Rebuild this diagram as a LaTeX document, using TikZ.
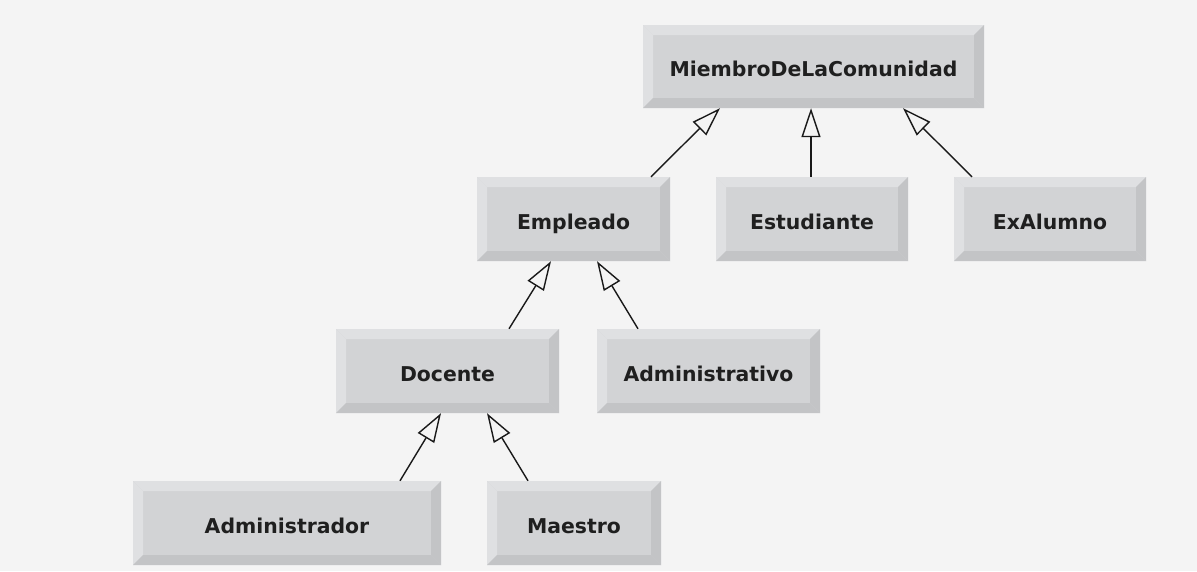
\documentclass[tikz,border=0pt]{standalone}
\usepackage{fontspec}
\setmainfont{DejaVu Sans}
\usetikzlibrary{arrows.meta}
\definecolor{bg}{HTML}{F4F4F4}
\definecolor{face}{HTML}{D2D3D5}
\definecolor{bevlight}{HTML}{DFE0E2}
\definecolor{bevdark}{HTML}{C3C4C6}
\tikzset{
  x=1pt, y=-1pt,
  bevbox/.style={
    minimum height=84pt, inner sep=0pt, fill=face,
    text height=20pt, text depth=0pt,
    font=\fontsize{20.4}{22}\selectfont\bfseries, text=black!88,
    path picture={
      \def\pb{path picture bounding box}
      \fill[bevlight] (\pb.north west) -- (\pb.north east) -- ([xshift=-10pt,yshift=-10pt]\pb.north east) -- ([xshift=10pt,yshift=-10pt]\pb.north west) -- cycle;
      \fill[bevlight] (\pb.north west) -- ([xshift=10pt,yshift=-10pt]\pb.north west) -- ([xshift=10pt,yshift=10pt]\pb.south west) -- (\pb.south west) -- cycle;
      \fill[bevdark] (\pb.south west) -- (\pb.south east) -- ([xshift=-10pt,yshift=10pt]\pb.south east) -- ([xshift=10pt,yshift=10pt]\pb.south west) -- cycle;
      \fill[bevdark] (\pb.north east) -- (\pb.south east) -- ([xshift=-10pt,yshift=10pt]\pb.south east) -- ([xshift=-10pt,yshift=-10pt]\pb.north east) -- cycle;
    }},
  inh/.style={line width=1.4pt, black!90, -{Triangle[open, length=29pt, width=19pt, fill=bg]}}
}
\begin{document}
\begin{tikzpicture}
\fill[bg] (0,0) rectangle (1197,571);
\useasboundingbox (0,0) rectangle (1197,571);
\node[bevbox, minimum width=341pt, minimum height=83pt] (miem) at (813.5,66.5) {MiembroDeLaComunidad};
\node[bevbox, minimum width=193pt] (emp) at (573.5,219) {Empleado};
\node[bevbox, minimum width=192pt] (est) at (812,219) {Estudiante};
\node[bevbox, minimum width=192pt] (exa) at (1050,219) {ExAlumno};
\node[bevbox, minimum width=223pt] (doc) at (447.5,371) {Docente};
\node[bevbox, minimum width=223pt] (adm) at (708.5,371) {Administrativo};
\node[bevbox, minimum width=308pt] (admr) at (287,523) {Administrador};
\node[bevbox, minimum width=174pt] (mae) at (574,523) {Maestro};
\draw[inh] ([xshift=77.5pt]emp.north) -- ([xshift=-93.5pt]miem.south);
\draw[inh] ([xshift=-1pt]est.north) -- ([xshift=-2.5pt]miem.south);
\draw[inh] ([xshift=-78pt]exa.north) -- ([xshift=89.5pt]miem.south);
\draw[inh] ([xshift=61.5pt]doc.north) -- ([xshift=-22.5pt]emp.south);
\draw[inh] ([xshift=-70.5pt]adm.north) -- ([xshift=23.5pt]emp.south);
\draw[inh] ([xshift=113pt]admr.north) -- ([xshift=-6.5pt]doc.south);
\draw[inh] ([xshift=-46pt]mae.north) -- ([xshift=39.5pt]doc.south);
\end{tikzpicture}
\end{document}
